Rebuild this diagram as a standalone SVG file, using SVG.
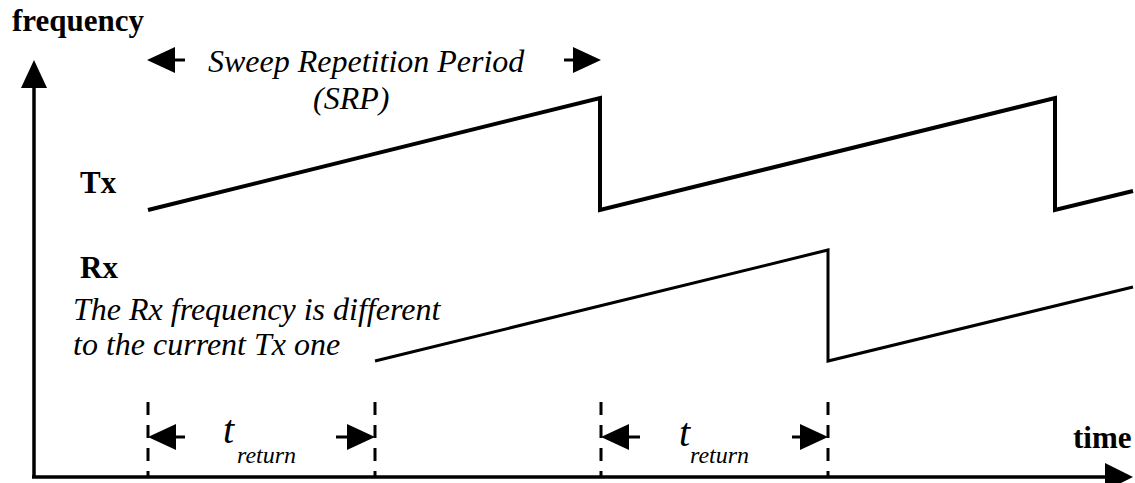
<svg xmlns="http://www.w3.org/2000/svg" width="1135" height="483" viewBox="0 0 1135 483">
<style>
.b{font-family:"Liberation Serif",serif;font-weight:bold;font-size:31px;fill:#000}
.i{font-family:"Liberation Serif",serif;font-style:italic;font-size:32px;fill:#000}
.ax{stroke:#000;stroke-width:3.5;fill:none}
.tx{stroke:#000;stroke-width:4;fill:none;stroke-linejoin:miter}
.rx{stroke:#000;stroke-width:3;fill:none;stroke-linejoin:miter}
.dash{stroke:#000;stroke-width:3;stroke-dasharray:13 10;fill:none}
.dim{stroke:#000;stroke-width:3;fill:none}
.ah{fill:#000}
</style>
<g id="axes">
<line class="ax" x1="34" y1="478" x2="34" y2="85"/>
<polygon class="ah" points="34,60 21,88 47,88"/>
<line class="ax" x1="32" y1="477" x2="1108" y2="477"/>
<polygon class="ah" points="1133,477 1105,463 1105,491"/>
<text class="b" x="12" y="31">frequency</text>
<text class="b" x="1073" y="448">time</text>
</g>
<g id="tx">
<polyline class="tx" points="148,210 600,98 600,210 1055,98 1055,210 1133,191"/>
<text class="b" x="80" y="193">Tx</text>
</g>
<g id="rx">
<polyline class="rx" points="375,361 828,250 828,361 1133,287"/>
<text class="b" x="80" y="278">Rx</text>
<text class="i" x="73" y="320">The Rx frequency is different</text>
<text class="i" x="73" y="355">to the current Tx one</text>
</g>
<g id="srp">
<text class="i" x="208" y="72">Sweep Repetition Period</text>
<text class="i" x="313" y="109">(SRP)</text>
</g>
<g id="connectors">
<line class="dash" x1="148" y1="402" x2="148" y2="477"/>
<line class="dash" x1="375" y1="402" x2="375" y2="477"/>
<line class="dash" x1="601" y1="402" x2="601" y2="477"/>
<line class="dash" x1="828" y1="402" x2="828" y2="477"/>
<line class="dim" x1="170" y1="60" x2="185" y2="60"/>
<polygon class="ah" points="147,60 175,47 175,73"/>
<line class="dim" x1="564" y1="60" x2="578" y2="60"/>
<polygon class="ah" points="601,60 573,47 573,73"/>
<line class="dim" x1="170" y1="437" x2="185" y2="437"/>
<polygon class="ah" points="148,437 176,424 176,450"/>
<line class="dim" x1="336" y1="437" x2="352" y2="437"/>
<polygon class="ah" points="375,437 347,424 347,450"/>
<line class="dim" x1="624" y1="437" x2="640" y2="437"/>
<polygon class="ah" points="601,437 629,424 629,450"/>
<line class="dim" x1="792" y1="437" x2="806" y2="437"/>
<polygon class="ah" points="828,437 800,424 800,450"/>
</g>
<g id="labels">
<text class="i" x="223" y="443" style="font-size:40px">t</text>
<text class="i" x="237" y="463" style="font-size:24px">return</text>
<text class="i" x="679" y="446" style="font-size:40px">t</text>
<text class="i" x="690" y="463" style="font-size:24px">return</text>
</g>
</svg>
